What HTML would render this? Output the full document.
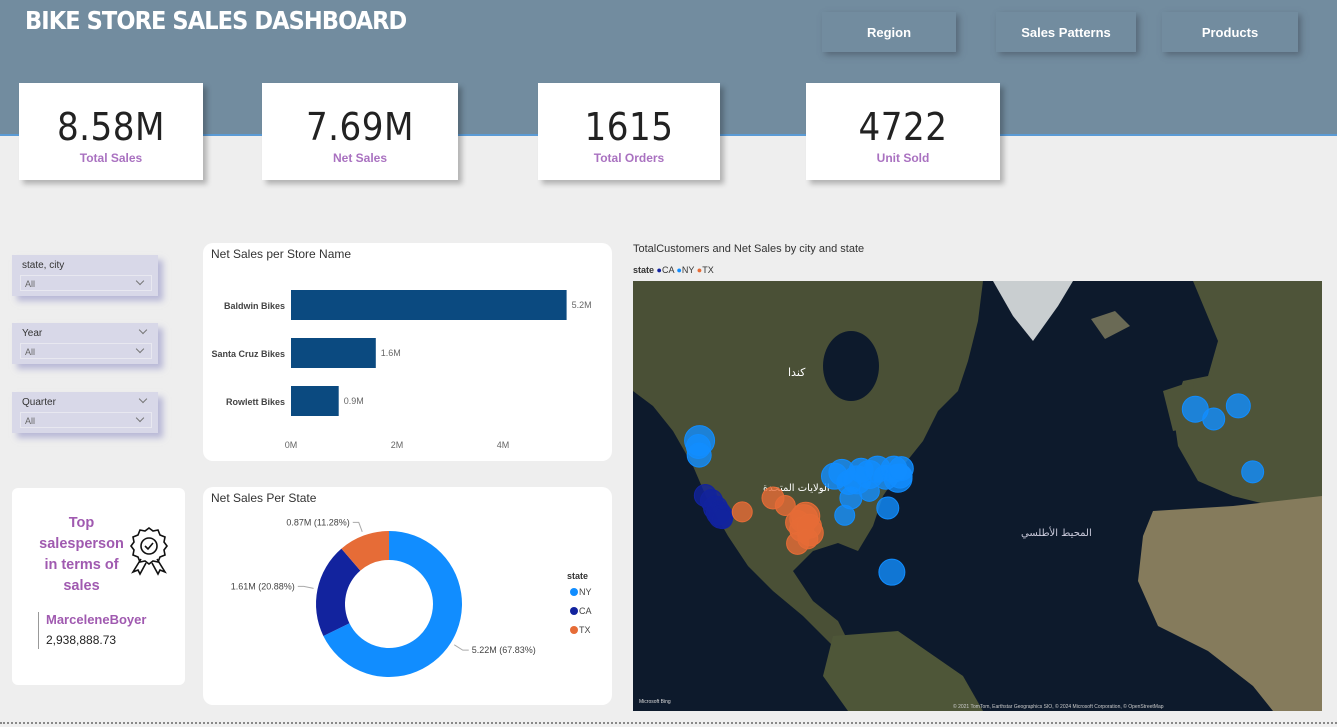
<!DOCTYPE html>
<html><head><meta charset="utf-8"><style>
*{box-sizing:border-box;margin:0;padding:0}
body{width:1337px;height:727px;background:#eeeeee;font-family:"Liberation Sans","DejaVu Sans",sans-serif;position:relative;overflow:hidden}
.abs{position:absolute}
#header{left:0;top:0;width:1337px;height:136px;background:#728c9f;border-bottom:2px solid #5b9bd5}
#title{left:25px;top:6px;color:#fff;font-weight:bold;font-size:25px;letter-spacing:-0.9px;font-family:"DejaVu Sans Condensed","Liberation Sans Narrow","Liberation Sans",sans-serif;font-stretch:condensed}
.nav{top:12px;height:40px;background:#728c9f;color:#fff;font-weight:bold;font-size:13px;display:flex;align-items:center;justify-content:center;box-shadow:3px 3px 6px rgba(80,95,110,.8)}
.kpi{top:83px;height:97px;background:#fff;box-shadow:4px 4px 5px rgba(0,0,0,.25);text-align:center}
.kpi .v{font-size:38px;color:#222;margin-top:24px;line-height:40px;font-family:"DejaVu Sans Condensed","DejaVu Sans",sans-serif;font-stretch:condensed;letter-spacing:0.5px}
.kpi .l{font-size:12px;color:#9b59b6;font-weight:bold;margin-top:4px;opacity:.85}
.slicer{left:12px;width:146px;height:41px;background:#d8d8e8;box-shadow:5px 5px 6px rgba(150,150,200,.6);font-size:10px;color:#333}
.slicer .t{position:absolute;left:10px;top:5px}
.slicer .dd{position:absolute;left:8px;top:20px;width:132px;height:16px;border:1px solid #e8e8f0;color:#666;font-size:9px;padding:3px 0 0 4px}
.chev{position:absolute;width:6px;height:6px;border-right:1px solid #777;border-bottom:1px solid #777;transform:rotate(45deg)}
.card{background:#fff;border-radius:10px}
</style></head><body>
<div class="abs" id="header"></div>
<div class="abs" id="title">BIKE STORE SALES DASHBOARD</div>
<div class="abs nav" style="left:822px;width:134px">Region</div>
<div class="abs nav" style="left:996px;width:140px">Sales Patterns</div>
<div class="abs nav" style="left:1162px;width:136px">Products</div>

<div class="abs kpi" style="left:19px;width:184px"><div class="v">8.58M</div><div class="l">Total Sales</div></div>
<div class="abs kpi" style="left:262px;width:196px"><div class="v">7.69M</div><div class="l">Net Sales</div></div>
<div class="abs kpi" style="left:538px;width:182px"><div class="v">1615</div><div class="l">Total Orders</div></div>
<div class="abs kpi" style="left:806px;width:194px"><div class="v">4722</div><div class="l">Unit Sold</div></div>

<div class="abs slicer" style="top:255px"><div class="t">state, city</div><div class="dd">All<span class="chev" style="right:8px;top:2px"></span></div></div>
<div class="abs slicer" style="top:323px"><div class="t">Year</div><span class="chev" style="right:12px;top:4px"></span><div class="dd">All<span class="chev" style="right:8px;top:2px"></span></div></div>
<div class="abs slicer" style="top:392px"><div class="t">Quarter</div><span class="chev" style="right:12px;top:4px"></span><div class="dd">All<span class="chev" style="right:8px;top:2px"></span></div></div>

<div class="abs card" style="left:12px;top:488px;width:173px;height:197px;border-radius:6px">
 <div class="abs" style="left:22px;top:25px;width:95px;text-align:center;color:#a05ab0;font-weight:bold;font-size:14.5px;line-height:21px;overflow:hidden">Top salesperson in terms of sales</div>
 <svg class="abs" style="left:117px;top:38px" width="40" height="50" viewBox="0 0 40 50"><path d="M20 2 l4 3 5-1 2 5 5 2-1 5 3 4-3 4 1 5-5 2-2 5-5-1-4 3-4-3-5 1-2-5-5-2 1-5-3-4 3-4-1-5 5-2 2-5 5 1z" fill="none" stroke="#111" stroke-width="1.6"/><circle cx="20" cy="20" r="8" fill="none" stroke="#111" stroke-width="1.6"/><path d="M16 20 l3 3 5-6" fill="none" stroke="#111" stroke-width="1.6"/><path d="M12 33 L4 46 9 44 11 48 17 37 M28 33 L36 46 31 44 29 48 23 37" fill="none" stroke="#111" stroke-width="1.6"/></svg>
 <div class="abs" style="left:26px;top:124px;width:1px;height:37px;background:#999"></div>
 <div class="abs" style="left:34px;top:124px;color:#a05ab0;font-weight:bold;font-size:13px">MarceleneBoyer</div>
 <div class="abs" style="left:34px;top:145px;color:#222;font-size:12px">2,938,888.73</div>
</div>

<div class="abs card" style="left:203px;top:243px;width:409px;height:218px">
 <div class="abs" style="left:8px;top:4px;font-size:12px;color:#333">Net Sales per Store Name</div>
</div>
<svg class="abs" id="bar" style="left:203px;top:243px" width="409" height="218"></svg>

<div class="abs card" style="left:203px;top:487px;width:409px;height:218px">
 <div class="abs" style="left:8px;top:4px;font-size:12px;color:#333">Net Sales Per State</div>
</div>
<svg class="abs" id="donut" style="left:203px;top:487px" width="409" height="218"></svg>

<div class="abs" style="left:633px;top:243px;font-size:11px;color:#333">TotalCustomers and Net Sales by city and state</div>
<div class="abs" style="left:633px;top:265px;font-size:9px;color:#333"><b>state</b> <span style="color:#12239E">●</span>CA <span style="color:#118DFF">●</span>NY <span style="color:#E66C37">●</span>TX</div>
<svg class="abs" id="map" style="left:633px;top:281px" width="689" height="430">
 <rect width="689" height="430" fill="#0d1a2c"/>
 <polygon fill="#4a5036" points="0,0 350,0 345,40 335,80 325,110 305,130 290,160 270,185 250,215 240,245 225,270 205,262 180,270 160,290 180,320 205,340 215,360 200,365 170,335 140,310 115,285 95,255 75,220 60,185 40,150 20,125 0,110"/>
 <ellipse cx="218" cy="85" rx="28" ry="35" fill="#0d1a2c"/>
 <polygon fill="#4e5638" points="200,355 265,350 330,395 350,430 215,430 190,395"/>
 <polygon fill="#c9ced0" points="360,0 440,0 425,25 400,60 380,35"/>
 <polygon fill="#6a6a55" points="458,38 482,30 497,45 472,58"/>
 <polygon fill="#4e5439" points="560,0 689,0 689,240 640,225 600,215 565,200 545,165 540,130 550,100 575,95 585,60"/>
 <polygon fill="#4e5439" points="530,110 560,100 565,145 540,150"/>
 <polygon fill="#857b5c" points="520,230 600,225 689,215 689,430 640,430 620,405 575,370 525,345 505,300 510,255"/>
 <text x="155" y="95" fill="#fff" font-size="11" font-family="DejaVu Sans,sans-serif">كندا</text>
 <text x="130" y="210" fill="#fff" font-size="10" font-family="DejaVu Sans,sans-serif">الولايات المتحدة</text>
 <text x="388" y="255" fill="#ccd" font-size="10" font-family="DejaVu Sans,sans-serif">المحيط الأطلسي</text>
 <text x="320" y="427" fill="#ccc" font-size="5" font-family="Liberation Sans,sans-serif">© 2021 TomTom, Earthstar Geographics SIO, © 2024 Microsoft Corporation, © OpenStreetMap</text>
 <text x="6" y="422" fill="#ddd" font-size="5" font-family="Liberation Sans,sans-serif">Microsoft Bing</text>
</svg>
<div class="abs" style="left:0;top:722px;width:1337px;border-top:2px dotted #888"></div>

<script>
const stores=["Baldwin Bikes","Santa Cruz Bikes","Rowlett Bikes"];
const storeSales=[5.2,1.6,0.9];
const storeLabels=["5.2M","1.6M","0.9M"];
const xTicks=[0,2,4];
const states=["NY","CA","TX"];
const stateSales=[5.22,1.61,0.87];
const stateLabels=["5.22M (67.83%)","1.61M (20.88%)","0.87M (11.28%)"];
const stateColors=["#118DFF","#12239E","#E66C37"];
const bubbleState=["NY","NY","NY","NY","NY","NY","NY","NY","NY","NY","NY","NY","NY","NY","NY","NY","NY","NY","NY","NY","NY","NY","NY","NY","CA","CA","CA","CA","CA","CA","TX","TX","TX","TX","TX","TX","TX","TX","TX","TX","TX"];
const bubbleLon=[-122.4,-122.7,-122.5,-89.5,-87.7,-86,-84,-83,-81,-79,-77,-75,-74,-73.5,-73.2,-85.5,-81,-76.5,-87,-75.5,-1.5,3,9,12.5,-121,-119.5,-118.5,-117.8,-117.2,-116.8,-112,-104.5,-98.5,-97,-96.5,-95.4,-97.5,-98.5,-95.6,-101.5,-96];
const bubbleLat=[47.5,46.5,45,41.2,41.9,40,40.5,42.3,41.5,42.5,41,42.5,40.8,41.2,42.6,37,38.3,35,33.5,21,52.5,51,53,42,37.5,36.5,35,34,33.3,32.8,34.2,37,32,32.8,33.3,29.8,30.5,27.5,31.2,35.5,28.5];
const bubbleR=[15,12,12,13,13,12,14,12,14,13,12,13,14,12,12,11,10,11,10,13,13,11,12,11,11,11,12,12,12,10,10,11,12,14,14,13,12,11,12,10,10];
const NS="http://www.w3.org/2000/svg";
function mk(p,t,a){const e=document.createElementNS(NS,t);for(const k in a)e.setAttribute(k,a[k]);p.appendChild(e);return e;}
// bar chart
const bar=document.getElementById('bar');
const x0=88,pxPerM=53;
const xs=v=>x0+v*pxPerM;
const band=i=>47+i*48;
stores.forEach((s,i)=>{
 const r=mk(bar,'rect',{x:xs(0),y:band(i),width:xs(storeSales[i])-xs(0),height:30,fill:'#0b4a80'});
 
 
 const t=mk(bar,'text',{x:82,y:band(i)+19,'text-anchor':'end','font-size':9,'font-weight':'bold',fill:'#444'});t.textContent=s;
 
 
 const v=mk(bar,'text',{x:xs(storeSales[i])+5,y:band(i)+18,'font-size':9,fill:'#666'});v.textContent=storeLabels[i];
 
 
});
xTicks.forEach(v=>{const t=mk(bar,'text',{x:xs(v),y:205,'text-anchor':'middle','font-size':9,fill:'#666'});t.textContent=v+'M';
 
 });
// donut
const dn=document.getElementById('donut');
const cx=186,cy=117,R=73,r0=44;
const tot=stateSales.reduce((a,b)=>a+b,0);
let ang=0;
const pt=(a,rr)=>[cx+rr*Math.sin(a),cy-rr*Math.cos(a)];
[0,1,2].forEach(i=>{
 const a0=ang,a1=ang+stateSales[i]/tot*2*Math.PI;ang=a1;
 const lg=(a1-a0)>Math.PI?1:0;
 const p1=pt(a0,R),p2=pt(a1,R),p3=pt(a1,r0),p4=pt(a0,r0);
 const p=mk(dn,'path',{d:`M${p1} A${R},${R} 0 ${lg} 1 ${p2} L${p3} A${r0},${r0} 0 ${lg} 0 ${p4}Z`,fill:stateColors[i]});
 
 
 const am=(a0+a1)/2,q=pt(am,R+4),q2=pt(am,R+14);
 const right=Math.sin(am)>0;
 const ex=q2[0]+(right?6:-6);
 mk(dn,'polyline',{points:`${q} ${q2} ${ex},${q2[1]}`,fill:'none',stroke:'#aaa','stroke-width':1});
 const t=mk(dn,'text',{x:ex+(right?3:-3),y:q2[1]+3,'text-anchor':right?'start':'end','font-size':9,fill:'#444'});t.textContent=stateLabels[i];
 
 
 const ly=105+i*19;
 mk(dn,'circle',{cx:371,cy:ly,r:4,fill:stateColors[i]});
 const lt=mk(dn,'text',{x:376,y:ly+3,'font-size':9,fill:'#444'});lt.textContent=states[i];
 
 
});
const lh=mk(dn,'text',{x:364,y:92,'font-size':9,'font-weight':'bold',fill:'#333'});lh.textContent='state';
// map bubbles (Mercator projection)
const mp=document.getElementById('map');
const merc=lat=>Math.log(Math.tan(Math.PI/4+lat*Math.PI/360));
const mx=lon=>67+(lon+122.3)*4.1;
const my=lat=>159-(merc(lat)-merc(47.6))*231;
bubbleLon.forEach((lon,i)=>{
 const col=stateColors[states.indexOf(bubbleState[i])];
 const c=mk(mp,'circle',{cx:mx(lon),cy:my(bubbleLat[i]),r:bubbleR[i],fill:col,'fill-opacity':0.8,stroke:col,'stroke-width':1});
 
 
});
</script>
</body></html>
